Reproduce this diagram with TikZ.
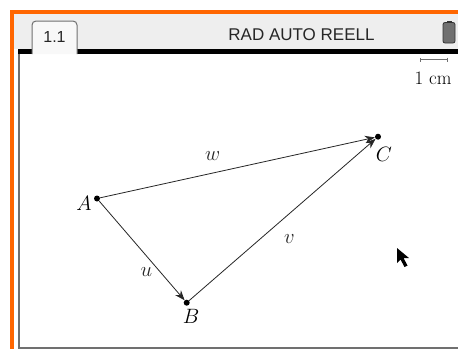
\documentclass[tikz,border=0pt]{standalone}
\usepackage{fontspec}
\setsansfont{Liberation Sans}
\usetikzlibrary{arrows.meta,positioning}
\definecolor{nsorange}{HTML}{FF6600}
\definecolor{hdrgray}{HTML}{EEEEEE}
\definecolor{framegray}{HTML}{707070}

\begin{document}
\begin{tikzpicture}[x=1pt, y=-1pt, every node/.style={inner sep=0pt, font=\fontsize{20.74}{21}\selectfont},
        pnt/.style={circle, fill=black, minimum size=6pt},
        vec/.style={line width=0.8pt, black!85, -{Stealth[length=10pt, width=7.5pt]}},
        hdr/.style={font=\sffamily\fontsize{17}{17}\selectfont, black!85}]
        \useasboundingbox (0,0) rectangle (458,349);
        % frame and header
        \fill[white] (0,0) rectangle (458,349);
        \fill[nsorange] (10,10) rectangle (458,13.5);
        \fill[nsorange] (10,10) rectangle (14,349);
        \fill[hdrgray] (14,13.5) rectangle (458,48.5);
        \fill[black] (18,48.5) rectangle (458,53.5);
        \draw[framegray, line width=1.5pt] (18.8,53.5) -- (18.8,348.2) -- (458,348.2);
        \filldraw[fill=white!60!hdrgray, draw=framegray, line width=1pt, rounded corners=4pt] (32,54) -- (32,21) -- (77,21) -- (77,54);
        \node[hdr, font=\sffamily\fontsize{16}{16}\selectfont] (tab) at (54.5,37) {1.1};
        \node[hdr] (mode) at (301.5,34.5) {RAD AUTO REELL};
        \filldraw[fill=framegray, draw=black!80, line width=0.8pt, rounded corners=2pt] (443,43) rectangle (455,22.5);
        \fill[black!80] (446.5,22.5) rectangle (451.5,20.5);
        % scale
        \coordinate (s1) at (420,59.5);
        \coordinate (s2) at (448,59.5);
        \draw[framegray, line width=1pt, {Bar[width=4pt]}-{Bar[width=4pt]}] (s1) -- (s2);
        \node[font=\fontsize{19}{19}\selectfont] (scl) at (433,78) {1 cm};
        % points
        \node[pnt] (A) at (97,198.5) {};
        \node[pnt] (B) at (186.7,302.7) {};
        \node[pnt] (C) at (378,136.7) {};
        \node[left=2pt of A, yshift=-4.5pt] (lA) {$A$};
        \node[below=3pt of B, xshift=4.5pt] (lB) {$B$};
        \node[below=7pt of C, xshift=6pt] (lC) {$C$};
        % vectors
        \draw[vec] (A) -- node[pos=0.72, left=8pt] (lu) {$u$} (B);
        \draw[vec] (B) -- node[pos=0.47, below right=10pt and 7pt] (lv) {$v$} (C);
        \draw[vec] (A) -- node[pos=0.41, above=12pt] (lw) {$w$} (C);
        % cursor
        \fill[black] (397,248) -- (397,263) -- (400.5,259.5) -- (404.5,267) -- (407.5,265.5) -- (403.5,258) -- (409,258) -- cycle;
    \end{tikzpicture}
\end{document}
